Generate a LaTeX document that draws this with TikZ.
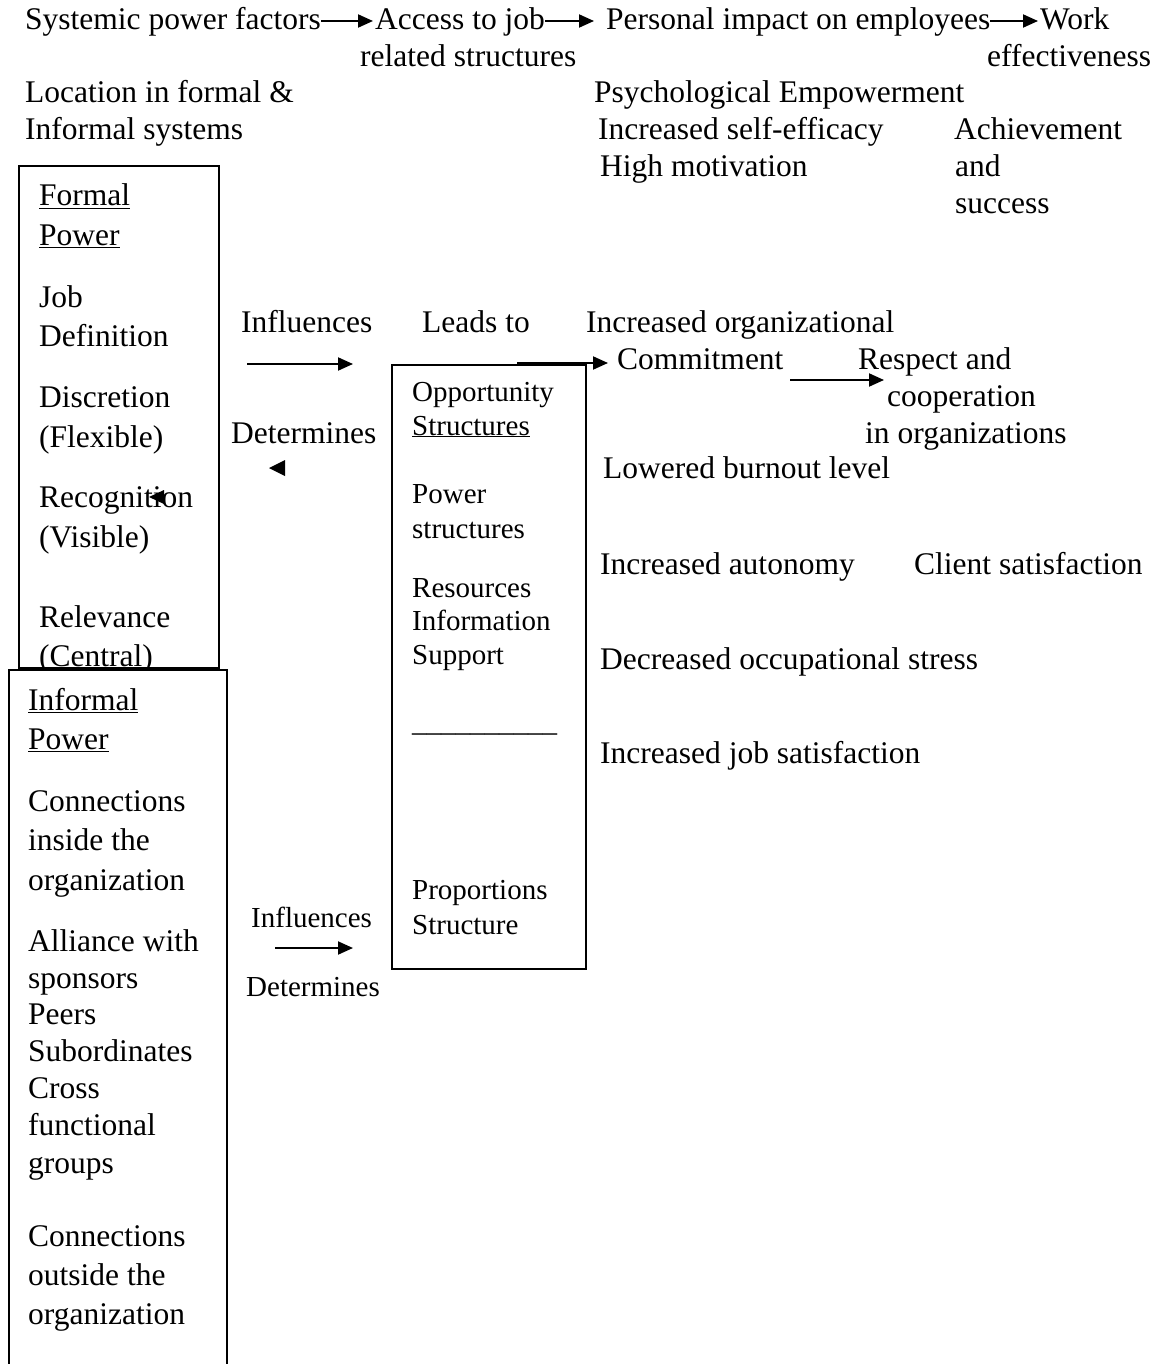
\documentclass[tikz,border=0pt]{standalone}
\usepackage{fontspec}
\setmainfont{Liberation Serif}
\usetikzlibrary{arrows.meta}
\newcommand\fsA{\fontsize{31.5}{37}\selectfont}
\newcommand\fsB{\fontsize{29}{34.5}\selectfont}
\tikzset{
  ta/.style={anchor=base west, inner sep=0pt, font=\fsA},
  tb/.style={anchor=base west, inner sep=0pt, font=\fsB},
  boxline/.style={line width=2pt},
  arr/.style={line width=2pt, -{Triangle[length=15pt,width=13pt]}},
  headonly/.style={fill=black}
}
\begin{document}
\begin{tikzpicture}[x=1pt,y=-1pt]
\useasboundingbox (0,0) rectangle (1165,1364);
% top rows
\node[ta] (sys) at (25,30) {Systemic power factors};
\node[ta] (acc) at (375,30) {Access to job};
\node[ta] (rel) at (360,67) {related structures};
\node[ta] (per) at (606,30) {Personal impact on employees};
\node[ta] (work) at (1040,30) {Work};
\node[ta] (eff) at (987,67) {effectiveness};
\draw[arr] ([yshift=9pt]sys.base east) -- ([yshift=9pt,xshift=-2pt]acc.base west);
\draw[arr] ([yshift=9pt]acc.base east) -- ([yshift=9pt,xshift=-12pt]per.base west);
\draw[arr] ([yshift=9pt]per.base east) -- ([yshift=9pt,xshift=-2pt]work.base west);
\node[ta] (loc1) at (25,103) {Location in formal \&};
\node[ta] (loc2) at (25,140) {Informal systems};
\node[ta] (psy) at (594,103) {Psychological Empowerment};
\node[ta] (ise) at (598,140) {Increased self-efficacy};
\node[ta] (hm) at (600,177) {High motivation};
\node[ta] (ach1) at (954,140) {Achievement};
\node[ta] (ach2) at (955,177) {and};
\node[ta] (ach3) at (955,214) {success};
% formal power box
\draw[boxline] (19,166) rectangle (219,668);
\node[ta] (fp1) at (39,206) {\underline{Formal}};
\node[ta] (fp2) at (39,245) {\underline{Power}};
\node[ta] (fp3) at (39,307) {Job};
\node[ta] (fp4) at (39,346) {Definition};
\node[ta] (fp5) at (39,407) {Discretion};
\node[ta] (fp6) at (39,447) {(Flexible)};
\node[ta] (fp7) at (39,507) {Recognition};
\node[ta] (fp8) at (39,547) {(Visible)};
\node[ta] (fp9) at (39,627) {Relevance};
\node[ta] (fp10) at (39,666) {(Central)};
\fill[headonly] (149,497) -- (164,490) -- (164,504) -- cycle;
% informal power box
\fill[white] (9,670) rectangle (227,1370);
\draw[boxline] (9,1370) -- (9,670) -- (227,670) -- (227,1370);
\node[ta] (ip1) at (28,710) {\underline{Informal}};
\node[ta] (ip2) at (28,749) {\underline{Power}};
\node[ta] (ip3) at (28,811) {Connections};
\node[ta] (ip4) at (28,850) {inside the};
\node[ta] (ip5) at (28,890) {organization};
\node[ta] (ip6) at (28,951) {Alliance with};
\node[ta] (ip7) at (28,988) {sponsors};
\node[ta] (ip8) at (28,1024) {Peers};
\node[ta] (ip9) at (28,1061) {Subordinates};
\node[ta] (ip10) at (28,1098) {Cross};
\node[ta] (ip11) at (28,1135) {functional};
\node[ta] (ip12) at (28,1173) {groups};
\node[ta] (ip13) at (28,1246) {Connections};
\node[ta] (ip14) at (28,1285) {outside the};
\node[ta] (ip15) at (28,1324) {organization};
% middle labels
\node[ta] (inf1) at (241,332) {Influences};
\coordinate (inf1s) at (247,364);
\coordinate (inf1e) at (353,364);
\draw[arr] (inf1s) -- (inf1e);
\node[ta] (det1) at (231,443) {Determines};
\fill[headonly] (269,468) -- (285,460) -- (285,476) -- cycle;
\node[tb] (inf2) at (251,927) {Influences};
\coordinate (inf2s) at (275,948);
\coordinate (inf2e) at (353,948);
\draw[arr] (inf2s) -- (inf2e);
\node[tb] (det2) at (246,996) {Determines};
% opportunity box
\draw[boxline] (392,365) rectangle (586,969);
\node[tb] (os1) at (412,401) {Opportunity};
\node[tb] (os2) at (412,435) {\underline{Structures}};
\node[tb] (os3) at (412,503) {Power};
\node[tb] (os4) at (412,538) {structures};
\node[tb] (os5) at (412,597) {Resources};
\node[tb] (os6) at (412,630) {Information};
\node[tb] (os7) at (412,664) {Support};
\node[tb] (os8) at (412,731) {\_\_\_\_\_\_\_\_\_\_};
\node[tb] (os9) at (412,899) {Proportions};
\node[tb] (os10) at (412,934) {Structure};
% leads to
\node[ta] (lead) at (422,332) {Leads to};
\coordinate (leads) at (517,363);
\coordinate (leade) at (608,363);
\node[ta] (ioc1) at (586,332) {Increased organizational};
\node[ta] (ioc2) at (617,369) {Commitment};
\draw[arr] (leads) -- (leade);
\node[ta] (rc1) at (858,369) {Respect and};
\node[ta] (rc2) at (887,406) {cooperation};
\node[ta] (rc3) at (865,443) {in organizations};
\coordinate (coms) at (790,380);
\coordinate (come) at (884,380);
\draw[arr] (coms) -- (come);
\node[ta] (lb) at (603,478) {Lowered burnout level};
\node[ta] (ia) at (600,574) {Increased autonomy};
\node[ta] (cs) at (914,574) {Client satisfaction};
\node[ta] (dos) at (600,669) {Decreased occupational stress};
\node[ta] (ijs) at (600,763) {Increased job satisfaction};
\end{tikzpicture}
\end{document}
